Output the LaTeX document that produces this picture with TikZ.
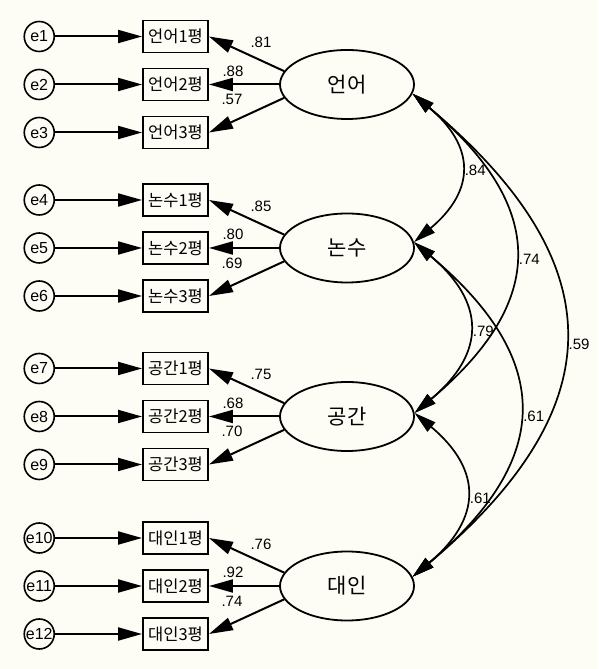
\documentclass[tikz,border=0pt]{standalone}
\usepackage{fontspec}
\setmainfont{Liberation Sans}
\newfontfamily\kr{Noto Sans CJK KR}
\usetikzlibrary{positioning,arrows.meta,calc,shapes.geometric}
\definecolor{paper}{HTML}{FDFDF6}

\begin{document}
\begin{tikzpicture}[x=1pt, y=1pt,
    errc/.style={draw, line width=1.6pt, circle, minimum size=30pt,
                 inner sep=0pt, font=\fontsize{16}{16}\selectfont},
    ind/.style={draw, line width=1.9pt, minimum width=65pt,
                minimum height=32pt, inner sep=2pt,
                font=\kr\fontsize{16.5}{17}\selectfont},
    lat/.style={draw, line width=1.8pt, ellipse, minimum width=134pt,
                minimum height=69pt, inner sep=0pt,
                font=\kr\fontsize{21}{21}\selectfont},
    wt/.style={font=\fontsize{15}{15}\selectfont, inner sep=1pt},
    ar/.style={-{Triangle[length=24pt,width=13pt]}, line width=2pt},
    cov/.style={{Triangle[length=22pt,width=12pt]}-{Triangle[length=22pt,width=12pt]},
                line width=1.7pt, out=-40, in=40, looseness=1.4},
  ]
    \fill[paper] (0,0) rectangle (598,669);
    \useasboundingbox (0,0) rectangle (598,669);

    % ── Factors, indicators, error terms ─────────────────────────────────
    \foreach \g/\yc/\nm/\wa/\wb/\wc in {1/584.5/언어/.81/.88/.57,
                                        2/421/논수/.85/.80/.69,
                                        3/252.5/공간/.75/.68/.70,
                                        4/83/대인/.76/.92/.74} {
      \node[lat] (f\g) at (347,\yc) {\nm};
      \foreach \i in {1,2,3} {
        \pgfmathtruncatemacro\e{3*(\g-1)+\i}
        \node[ind] (v\g\i) at (175.5,{\yc+48*(2-\i)}) {\nm\i{}평};
        \node[errc, left=87pt of v\g\i] (e\g\i) {e\e};
        \draw[ar] (e\g\i) -- (v\g\i);
      }
      % loadings
      \draw[ar] (f\g.168) -- (v\g1.east);
      \draw[ar] (f\g.west) -- (v\g2.east);
      \draw[ar] (f\g.192) -- (v\g3.east);
      \node[wt] (w\g1) at (261,\yc+42)   {\wa};
      \node[wt] (w\g2) at (233,\yc+13.5) {\wb};
      \node[wt] (w\g3) at (232,\yc-15)   {\wc};
    }

    % ── Correlations between factors ─────────────────────────────────────
    \draw[cov] (f1.-8) to node[wt, right=3pt, pos=.52] (c12) {.84} (f2.5);
    \draw[cov] (f1.-8) to node[wt, right=3pt, pos=.52] (c13) {.74} (f3.3);
    \draw[cov] (f1.-8) to node[wt, right=3pt, pos=.52] (c14) {.59} (f4.8);
    \draw[cov] (f2.5)  to node[wt, right=3pt, pos=.52] (c23) {.79} (f3.3);
    \draw[cov] (f2.5)  to node[wt, right=3pt, pos=.52] (c24) {.61} (f4.8);
    \draw[cov] (f3.3)  to node[wt, right=3pt, pos=.52] (c34) {.61} (f4.8);
  \end{tikzpicture}
\end{document}
